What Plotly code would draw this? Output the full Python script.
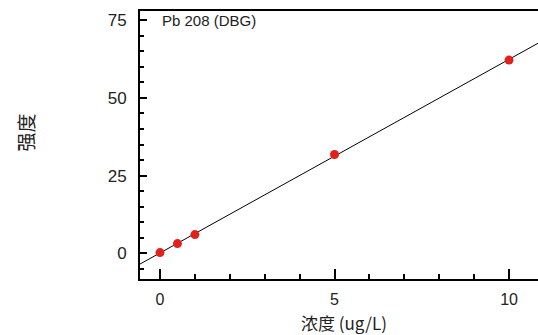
import numpy as np
import plotly.graph_objects as go

# Data
conc = [0, 0.5, 1, 5, 10]
intensity = [0.2, 3.1, 6.0, 31.8, 62.2]
x_tick_vals = [0, 5, 10]
y_tick_vals = [0, 25, 50, 75]
label_text = "Pb 208 (DBG)"
x_title = "浓度 (ug/L)"
y_title = "强度"

x_range = [-0.573, 10.83]
y_range = [-8.3, 78.0]

slope, intercept = np.polyfit(conc, intensity, 1)
fit_x = np.array(x_range)
fit_y = slope * fit_x + intercept

fig = go.Figure()
fig.add_trace(go.Scatter(x=fit_x, y=fit_y, mode="lines",
                         line=dict(color="black", width=1), showlegend=False,
                         hoverinfo="skip"))
fig.add_trace(go.Scatter(x=conc, y=intensity, mode="markers",
                         marker=dict(color="#e3211c", size=9), showlegend=False))

tick_font = dict(family="Liberation Sans, Arial, sans-serif", size=17, color="#222")
xtick_font = dict(family="Liberation Sans, Arial, sans-serif", size=16, color="#222")
fig.update_layout(
    width=538, height=335,
    margin=dict(l=140, r=0, t=11, b=56),
    paper_bgcolor="white", plot_bgcolor="white",
    xaxis=dict(range=x_range, tickvals=x_tick_vals, ticks="inside", ticklen=10,
               tickwidth=1.5, tickcolor="black", showline=True, linecolor="black",
               linewidth=2, mirror=True, showgrid=False, zeroline=False,
               tickfont=xtick_font, ticklabelstandoff=5,
               minor=dict(dtick=1, tick0=0, ticks="inside", ticklen=5,
                          tickcolor="black", tickwidth=1.5, showgrid=False)),
    yaxis=dict(range=y_range, tickvals=y_tick_vals, ticks="inside", ticklen=7,
               tickwidth=1.5, tickcolor="black", showline=True, linecolor="black",
               linewidth=2, showgrid=False, zeroline=False,
               tickfont=tick_font, ticklabelstandoff=8,
               minor=dict(dtick=5, tick0=0, ticks="inside", ticklen=4,
                          tickcolor="black", tickwidth=1.5, showgrid=False)),
    annotations=[
        dict(text=label_text, xref="paper", yref="paper", x=0.05, y=0.965,
             xanchor="left", yanchor="middle", showarrow=False,
             font=dict(family="Liberation Sans, Arial, sans-serif", size=15, color="#222")),
        dict(text=y_title, xref="paper", yref="paper", x=-0.289, y=0.547,
             xanchor="center", yanchor="middle", showarrow=False, textangle=-90,
             font=dict(family="Noto Sans CJK SC", size=19, color="#222")),
        dict(text=x_title, xref="paper", yref="paper", x=0.513, y=-0.163,
             xanchor="center", yanchor="middle", showarrow=False,
             font=dict(family="Noto Sans CJK SC", size=17, color="#222")),
    ],
)

fig.write_html("out.html")
